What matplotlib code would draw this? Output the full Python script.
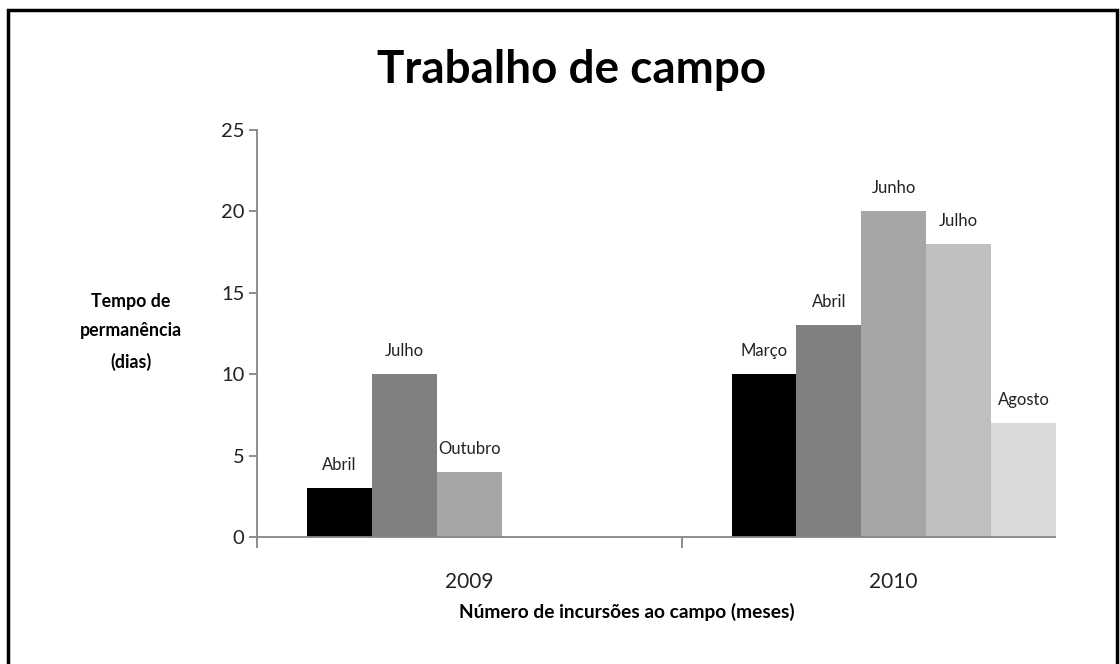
import matplotlib
matplotlib.use("Agg")
import matplotlib.pyplot as plt
import numpy as np

plt.rcParams['font.family'] = ['Lato', 'DejaVu Sans']

# data
anos = ['2009', '2010']
valores = [
    [3, 10, 4, np.nan, np.nan],   # 2009
    [10, 13, 20, 18, 7],          # 2010
]
meses = [
    ['Abril', 'Julho', 'Outubro', '', ''],
    ['Março', 'Abril', 'Junho', 'Julho', 'Agosto'],
]
cores = ['#000000', '#808080', '#a6a6a6', '#bfbfbf', '#d9d9d9']

W, H = 1120, 664
fig = plt.figure(figsize=(W / 100, H / 100), dpi=100)

# axes in pixel terms: x 257..1106, y 130..537
ax = fig.add_axes([257 / W, 1 - 537 / H, (1106 - 257) / W, (537 - 130) / H])

n = 5
gap = 50 / 424.5
bw = (1 - 2 * gap) / n
for i, (vals, labs) in enumerate(zip(valores, meses)):
    for j in range(n):
        v = vals[j]
        if np.isnan(v):
            continue
        x = i + gap + bw * (j + 0.5)
        ax.bar(x, v, width=bw, color=cores[j], edgecolor='none')
        ax.annotate(labs[j], (x, v), xytext=(0, 16.5), textcoords='offset points',
                    ha='center', va='center', fontsize=12, color='#222222')

axis_col = '#868686'
ax.set_xlim(0, 2)
ax.set_ylim(0, 25)
ax.set_yticks(range(0, 26, 5))
ax.set_xticks([0, 1])
ax.set_xticklabels([])
ax.set_xticks([0.5, 1.5], minor=True)
ax.set_xticklabels(anos, minor=True)
ax.tick_params(axis='x', which='minor', length=0, pad=25, labelsize=15, labelcolor='#222222')
ax.tick_params(axis='x', which='major', length=8, width=1.3, color=axis_col, direction='out')
ax.tick_params(axis='y', length=6, width=1.3, color=axis_col, direction='out',
               pad=3, labelsize=14.5, labelcolor='#222222')
for s in ['top', 'right']:
    ax.spines[s].set_visible(False)
for s in ['left', 'bottom']:
    ax.spines[s].set_color(axis_col)
    ax.spines[s].set_linewidth(1.3)
ax.spines['bottom'].set_bounds(0, (1055 - 257) / 424.5)

fig.text(572 / W, 1 - 70 / H, 'Trabalho de campo', ha='center', va='center',
         fontsize=33, fontweight='bold')
fig.text(131 / W, 1 - 332 / H, 'Tempo de\npermanência\n(dias)', ha='center', va='center',
         fontsize=12.8, fontweight='bold', linespacing=1.9)
fig.text(627 / W, 1 - 612 / H, 'Número de incursões ao campo (meses)', ha='center',
         va='center', fontsize=13.8, fontweight='bold')

# outer frame
frame = plt.Rectangle((8 / W, -0.05), (1117 - 8) / W, 1 - 10 / H + 0.05,
                      transform=fig.transFigure, fill=False, edgecolor='black', linewidth=2.5)
fig.patches.append(frame)

fig.savefig('out.png', dpi=100)
